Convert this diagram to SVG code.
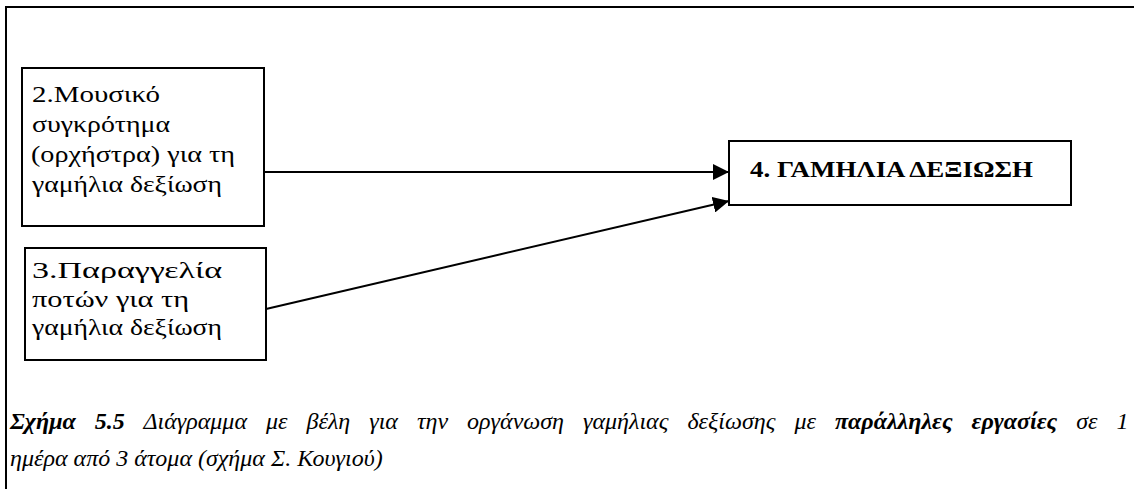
<svg xmlns="http://www.w3.org/2000/svg" width="1134" height="489" viewBox="0 0 1134 489">
  <style>
    .frame { fill: none; stroke: #000; stroke-width: 2; }
    .box { fill: #fff; stroke: #000; stroke-width: 2; }
    .edge { fill: none; stroke: #000; stroke-width: 2; }
    .lbl { font-family: "Liberation Serif", "Times New Roman", serif; font-size: 24px; fill: #000; }
    .title { font-family: "Liberation Serif", "Times New Roman", serif; font-size: 23px; font-weight: bold; fill: #000; }
    .cap { font-family: "Liberation Serif", "Times New Roman", serif; font-size: 24px; font-style: italic; fill: #000; }
    .b { font-weight: bold; }
  </style>
  <defs>
    <marker id="arrow" markerUnits="userSpaceOnUse" markerWidth="16" markerHeight="16" refX="16" refY="8" orient="auto">
      <path d="M0,0 L16,8 L0,16 Z" fill="#000"/>
    </marker>
  </defs>

  <rect width="1134" height="489" fill="#fff"/>
  <!-- outer frame (open at right and bottom) -->
  <path class="frame" d="M6,489 V7 H1134"/>

  <g id="connectors">
    <line class="edge" x1="264" y1="172" x2="729" y2="172" marker-end="url(#arrow)"/>
    <line class="edge" x1="266" y1="309" x2="729" y2="201" marker-end="url(#arrow)"/>
  </g>

  <g id="node2">
    <rect class="box" x="22" y="68" width="242" height="158"/>
    <text class="lbl" x="32" y="102" textLength="128" lengthAdjust="spacingAndGlyphs">2.Μουσικό</text>
    <text class="lbl" x="32" y="132" textLength="138" lengthAdjust="spacingAndGlyphs">συγκρότημα</text>
    <text class="lbl" x="31" y="162" textLength="204" lengthAdjust="spacingAndGlyphs">(ορχήστρα) για τη</text>
    <text class="lbl" x="32" y="192" textLength="190" lengthAdjust="spacingAndGlyphs">γαμήλια δεξίωση</text>
  </g>

  <g id="node3">
    <rect class="box" x="25" y="248" width="241" height="112"/>
    <text class="lbl" x="32" y="278" textLength="190" lengthAdjust="spacingAndGlyphs">3.Παραγγελία</text>
    <text class="lbl" x="32" y="307" textLength="157" lengthAdjust="spacingAndGlyphs">ποτών για τη</text>
    <text class="lbl" x="32" y="335" textLength="190" lengthAdjust="spacingAndGlyphs">γαμήλια δεξίωση</text>
  </g>

  <g id="node4">
    <rect class="box" x="729" y="141" width="342" height="64"/>
    <text class="title" x="750" y="177" textLength="283" lengthAdjust="spacingAndGlyphs">4. ΓΑΜΗΛΙΑ ΔΕΞΙΩΣΗ</text>
  </g>

  <!-- justified caption: first line stretched with extra word spacing -->
  <g id="caption">
    <text class="cap" x="10" y="429" word-spacing="13"><tspan class="b">Σχήμα 5.5</tspan> Διάγραμμα με βέλη για την οργάνωση γαμήλιας δεξίωσης με <tspan class="b">παράλληλες εργασίες</tspan> σε 1</text>
    <text class="cap" x="10" y="466">ημέρα από 3 άτομα (σχήμα Σ. Κουγιού)</text>
  </g>
</svg>
